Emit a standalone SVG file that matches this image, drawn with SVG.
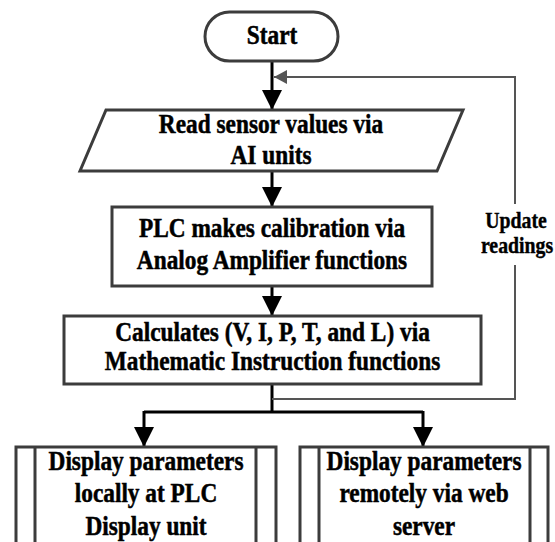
<svg xmlns="http://www.w3.org/2000/svg" width="555" height="542" viewBox="0 0 555 542">
  <style>
    .box { fill: #fff; stroke: #3c3c3c; stroke-width: 3; }
    .sub { fill: none; stroke: #3c3c3c; stroke-width: 3; }
    .t { font-family: "Liberation Serif", "Times New Roman", serif; font-weight: bold; font-size: 26.5px; fill: #000; stroke: #000; stroke-width: 0.5; text-anchor: middle; }
    .lbl { font-family: "Liberation Serif", "Times New Roman", serif; font-weight: bold; font-size: 23px; fill: #000; stroke: #000; stroke-width: 0.4; text-anchor: middle; }
    .flow { fill: none; stroke: #000; stroke-width: 3; }
    .loop { fill: none; stroke: #555; stroke-width: 2; }
  </style>
  <defs>
    <marker id="ah" markerUnits="userSpaceOnUse" markerWidth="20" markerHeight="22" refX="20" refY="10" orient="auto">
      <path d="M0,0 L20,10 L0,20 Z" fill="#000"/>
    </marker>
    <marker id="ahg" markerUnits="userSpaceOnUse" markerWidth="14" markerHeight="14" refX="13" refY="7" orient="auto">
      <path d="M0,0 L13,7 L0,14 Z" fill="#555"/>
    </marker>
  </defs>

  <rect width="555" height="542" fill="#fff"/>

  <!-- connectors -->
  <g id="connectors">
    <path class="flow" d="M272,61 V110" marker-end="url(#ah)"/>
    <path class="flow" d="M272,171 V207" marker-end="url(#ah)"/>
    <path class="flow" d="M272,286 V316" marker-end="url(#ah)"/>
    <path class="flow" d="M272,384 V412"/>
    <path class="flow" d="M144,412 H423"/>
    <path class="flow" d="M144,411 V447" marker-end="url(#ah)"/>
    <path class="flow" d="M423,411 V447" marker-end="url(#ah)"/>
    <!-- feedback loop -->
    <path class="loop" d="M272,399 H515 V265"/>
    <path class="loop" d="M515,204 V77 H274" marker-end="url(#ahg)"/>
    <text class="lbl" transform="translate(516,228) scale(0.86,1)">Update</text>
    <text class="lbl" transform="translate(517,253) scale(0.86,1)">readings</text>
  </g>

  <g id="start">
    <rect class="box" x="205" y="12" width="133" height="49" rx="24.5"/>
    <text class="t" transform="translate(272,44) scale(0.88,1)">Start</text>
  </g>

  <g id="read-sensors">
    <path class="box" d="M106,110 H463 L437,171 H80 Z"/>
    <text class="t" transform="translate(271,132.5) scale(0.88,1)">Read sensor values via</text>
    <text class="t" transform="translate(271,164) scale(0.88,1)">AI units</text>
  </g>

  <g id="calibration">
    <rect class="box" x="112" y="207" width="320" height="79"/>
    <text class="t" transform="translate(272,237) scale(0.88,1)">PLC makes calibration via</text>
    <text class="t" transform="translate(272,269) scale(0.88,1)">Analog Amplifier functions</text>
  </g>

  <g id="calculate">
    <rect class="box" x="64" y="316" width="417" height="68"/>
    <text class="t" transform="translate(272.5,341) scale(0.88,1)">Calculates (V, I, P, T, and L) via</text>
    <text class="t" transform="translate(272.5,370) scale(0.88,1)">Mathematic Instruction functions</text>
  </g>

  <g id="display-local">
    <rect class="box" x="16" y="447" width="260" height="100"/>
    <path class="sub" d="M35,447 V547 M256,447 V547"/>
    <text class="t" transform="translate(146,470) scale(0.88,1)">Display parameters</text>
    <text class="t" transform="translate(146,502) scale(0.88,1)">locally at PLC</text>
    <text class="t" transform="translate(146,535) scale(0.88,1)">Display unit</text>
  </g>

  <g id="display-remote">
    <rect class="box" x="300" y="447" width="248" height="100"/>
    <path class="sub" d="M319,447 V547 M530,447 V547"/>
    <text class="t" transform="translate(424,470) scale(0.88,1)">Display parameters</text>
    <text class="t" transform="translate(424,502) scale(0.88,1)">remotely via web</text>
    <text class="t" transform="translate(424,535) scale(0.88,1)">server</text>
  </g>
</svg>
